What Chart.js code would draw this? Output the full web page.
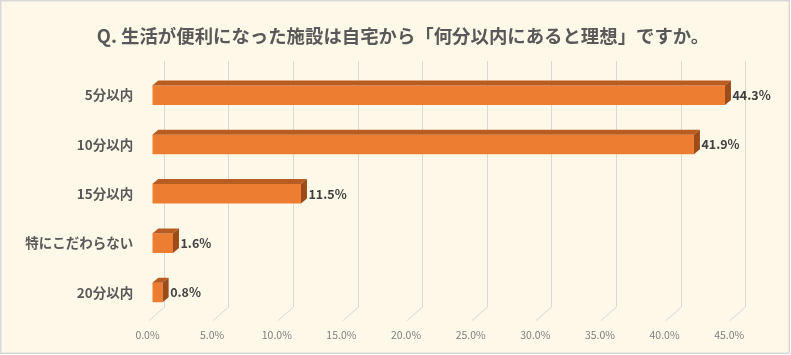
<!DOCTYPE html>
<html>
<head>
<meta charset="utf-8">
<script src="https://cdn.jsdelivr.net/npm/chart.js@4/dist/chart.umd.min.js"></script>
<style>
html,body{margin:0;padding:0;background:#ffffff;}
canvas{display:block;}
</style>
</head>
<body>
<canvas id="c" width="791" height="355"></canvas>
<script>
const titleText = "Q. 生活が便利になった施設は自宅から「何分以内にあると理想」ですか。";
const categories = ["5分以内", "10分以内", "15分以内", "特にこだわらない", "20分以内"];
const values = [44.3, 41.9, 11.5, 1.6, 0.8];
const tickStep = 5;
const axisMax = 45;

const FONT = '"Noto Sans CJK JP", "Noto Sans", sans-serif';
const DX = 6, DY = 5;          // bar depth
const GX = 11.3, GTOP = 61, GBOT = 307, FX = 15.6, FY = 13.7; // back wall / floor

const framePlugin = {
  id: 'frame',
  beforeDraw(chart) {
    const ctx = chart.ctx;
    ctx.save();
    ctx.fillStyle = '#ffffff';
    ctx.fillRect(0, 0, chart.width, chart.height);
    ctx.fillStyle = '#FEF8E8';
    ctx.fillRect(1, 1, 788, 352);
    ctx.strokeStyle = '#D9D9D9';
    ctx.lineWidth = 1.5;
    ctx.strokeRect(0.75, 0.75, 788.5, 352.5);
    // title
    ctx.fillStyle = '#595959';
    ctx.font = 'bold 18.4px ' + FONT;
    ctx.textAlign = 'center';
    ctx.textBaseline = 'middle';
    ctx.fillText(titleText, 403, 36);
    ctx.restore();
  },
  beforeDatasetsDraw(chart) {
    const ctx = chart.ctx;
    const xs = chart.scales.x;
    ctx.save();
    ctx.strokeStyle = '#D9D9D9';
    ctx.lineWidth = 1;
    xs.ticks.forEach(t => {
      const px = Math.round(xs.getPixelForValue(t.value) + GX) + 0.5;
      ctx.beginPath();
      ctx.moveTo(px, GTOP);
      ctx.lineTo(px, GBOT);
      ctx.lineTo(px - FX, GBOT + FY);
      ctx.stroke();
    });
    ctx.restore();
  },
  afterDatasetsDraw(chart) {
    const ctx = chart.ctx;
    const meta = chart.getDatasetMeta(0);
    ctx.save();
    meta.data.forEach((el, i) => {
      const p = el.getProps(['x', 'y', 'base', 'height'], true);
      const top = p.y - p.height / 2, bot = p.y + p.height / 2;
      const x0 = p.base, x1 = p.x;
      // top face
      ctx.fillStyle = '#B95C22';
      ctx.beginPath();
      ctx.moveTo(x0, top);
      ctx.lineTo(x0 + DX, top - DY);
      ctx.lineTo(x1 + DX, top - DY);
      ctx.lineTo(x1, top);
      ctx.closePath();
      ctx.fill();
      // side face
      ctx.fillStyle = '#9C4B19';
      ctx.beginPath();
      ctx.moveTo(x1, top);
      ctx.lineTo(x1 + DX, top - DY);
      ctx.lineTo(x1 + DX, bot - DY);
      ctx.lineTo(x1, bot);
      ctx.closePath();
      ctx.fill();
      // value label
      ctx.fillStyle = '#404040';
      ctx.font = 'bold 12.5px ' + FONT;
      ctx.textAlign = 'left';
      ctx.textBaseline = 'middle';
      ctx.fillText(values[i].toFixed(1) + '%', x1 + DX + 1.5, p.y);
    });
    ctx.restore();
  }
};

new Chart(document.getElementById('c'), {
  type: 'bar',
  data: {
    labels: categories,
    datasets: [{
      data: values,
      backgroundColor: '#ED7D31',
      borderWidth: 0,
      barPercentage: 0.79,
      categoryPercentage: 0.5
    }]
  },
  options: {
    indexAxis: 'y',
    responsive: false,
    animation: false,
    events: [],
    layout: { padding: { top: 70.6, right: 57, bottom: 0, left: 0 } },
    plugins: { legend: { display: false }, title: { display: false }, tooltip: { enabled: false } },
    scales: {
      x: {
        min: 0, max: axisMax,
        grid: { display: false, drawTicks: false },
        border: { display: false },
        ticks: {
          stepSize: tickStep,
          labelOffset: -4.8,
          padding: 12,
          color: '#7F7F7F',
          font: { family: FONT, size: 10.5 },
          callback: v => Number(v).toFixed(1) + '%'
        },
        afterFit(s) { s.height = 37.9; }
      },
      y: {
        grid: { display: false, drawTicks: false },
        border: { display: false },
        ticks: {
          padding: 19,
          color: '#595959',
          font: { family: FONT, size: 13.5, weight: 'bold' }
        },
        afterFit(s) { s.width = 152.3; }
      }
    }
  },
  plugins: [framePlugin]
});
</script>
</body>
</html>
